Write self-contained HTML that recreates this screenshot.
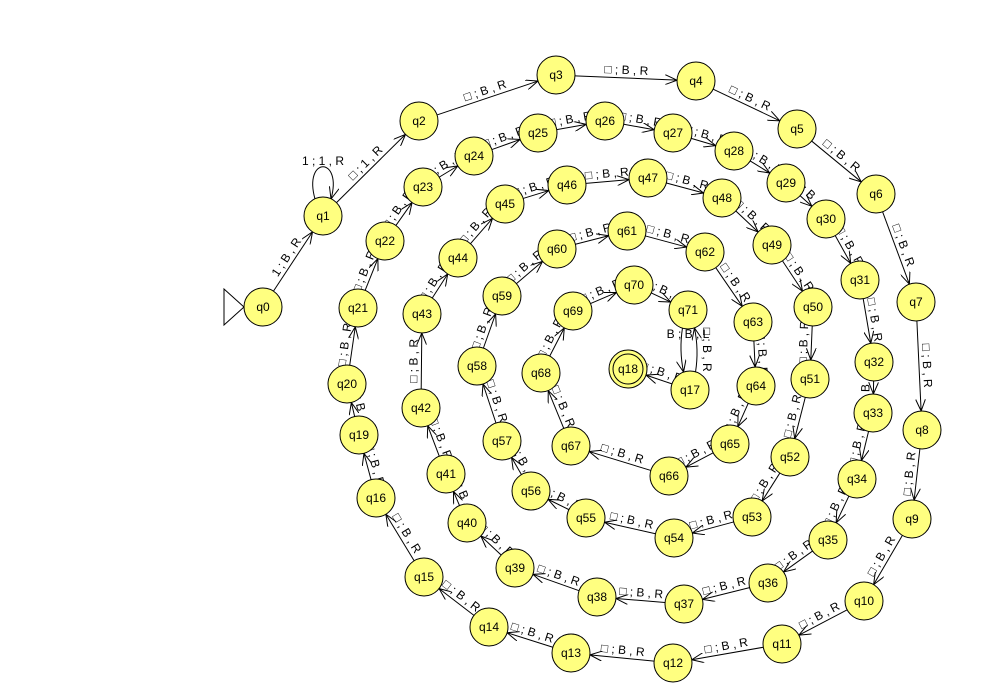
<!DOCTYPE html>
<html><head><meta charset="utf-8"><style>
html,body{margin:0;padding:0;background:#fff}
svg{display:block}
text{font-family:"Liberation Sans",sans-serif;font-size:12px;fill:#000}
</style></head><body>
<svg id="chart" width="1000" height="685" viewBox="0 0 1000 685" xmlns="http://www.w3.org/2000/svg">
<defs><marker id="ah" viewBox="0 0 12 10" refX="12" refY="5" markerWidth="12" markerHeight="10" orient="auto" markerUnits="userSpaceOnUse"><path d="M0,0 L12,5 L0,10" fill="none" stroke="#000" stroke-width="1"/></marker></defs>
<g id="edges"></g><g id="nodes"></g>
</svg>
<script>
const stateNames=["q0","q1","q2","q3","q4","q5","q6","q7","q8","q9","q10","q11","q12","q13","q14","q15","q16","q17","q18","q19","q20","q21","q22","q23","q24","q25","q26","q27","q28","q29","q30","q31","q32","q33","q34","q35","q36","q37","q38","q39","q40","q41","q42","q43","q44","q45","q46","q47","q48","q49","q50","q51","q52","q53","q54","q55","q56","q57","q58","q59","q60","q61","q62","q63","q64","q65","q66","q67","q68","q69","q70","q71"];
const stateX=[263,323,419,556,696,797,876,916,922,912,864,782,673,571,489,424,376,690,628,359,347,358,385,423,474,538,605,673,734,786,826,860,874,873,857,828,768,684,597,515,467,446,421,422,458,505,567,648,722,772,813,810,790,752,674,586,531,502,477,502,557,627,705,753,756,730,669,571,541,573,634,688];
const stateY=[307,216,121,75,81,129,194,302,430,519,601,644,663,653,627,577,498,390,369,435,384,308,241,187,156,133,121,133,151,183,219,280,362,413,479,540,583,604,597,568,523,474,408,314,258,204,185,178,198,245,307,379,457,517,538,518,491,441,366,296,249,231,252,322,386,444,476,446,373,311,285,310];
const finalStates=["q18"];
const chainOrder=["q0","q1","q2","q3","q4","q5","q6","q7","q8","q9","q10","q11","q12","q13","q14","q15","q16","q19","q20","q21","q22","q23","q24","q25","q26","q27","q28","q29","q30","q31","q32","q33","q34","q35","q36","q37","q38","q39","q40","q41","q42","q43","q44","q45","q46","q47","q48","q49","q50","q51","q52","q53","q54","q55","q56","q57","q58","q59","q60","q61","q62","q63","q64","q65","q66","q67","q68","q69","q70","q71"];
const R=19, NS="http://www.w3.org/2000/svg";
const eg=document.getElementById('edges'), ng=document.getElementById('nodes');
function pos(n){const i=stateNames.indexOf(n);return [stateX[i],stateY[i]];}
function label(n){if(n==="q0")return "1 ; B , R";if(n==="q1")return "□ ; 1 , R";return "□ ; B , R";}
function straight(from,to,txt){
  const a=pos(from),b=pos(to);
  const dx=b[0]-a[0],dy=b[1]-a[1],L=Math.hypot(dx,dy),ux=dx/L,uy=dy/L;
  const l=document.createElementNS(NS,'line');
  
  
  l.setAttribute('x1',a[0]+ux*R);l.setAttribute('y1',a[1]+uy*R);
  l.setAttribute('x2',b[0]-ux*R);l.setAttribute('y2',b[1]-uy*R);
  l.setAttribute('stroke','#000');l.setAttribute('marker-end','url(#ah)');
  eg.appendChild(l);
  let ang=Math.atan2(dy,dx)*180/Math.PI; if(ang>90)ang-=180; if(ang<-90)ang+=180;
  const mx=(a[0]+b[0])/2,my=(a[1]+b[1])/2;
  const t=document.createElementNS(NS,'text');
  
  
  t.setAttribute('text-anchor','middle');
  t.setAttribute('transform','translate('+mx+','+my+') rotate('+ang+') translate(0,-4)');
  t.textContent=txt;
  eg.appendChild(t);
}
for(let i=0;i<chainOrder.length-1;i++) straight(chainOrder[i],chainOrder[i+1],label(chainOrder[i]));
straight("q17","q18","□ ; B , R");
// curved pair between q71 and q17
function curved(from,to,bend,txt,horiz){
  const a=pos(from),b=pos(to);
  const dx=b[0]-a[0],dy=b[1]-a[1],L=Math.hypot(dx,dy),ux=dx/L,uy=dy/L,nx=-uy,ny=ux;
  const sx=a[0]+ux*R*0.95+nx*6,sy=a[1]+uy*R*0.95+ny*6,ex=b[0]-ux*R*0.95+nx*6,ey=b[1]-uy*R*0.95+ny*6;
  const cx=(a[0]+b[0])/2+nx*bend,cy=(a[1]+b[1])/2+ny*bend;
  const p=document.createElementNS(NS,'path');
  
  
  p.setAttribute('d','M'+sx+','+sy+' Q'+cx+','+cy+' '+ex+','+ey);
  p.setAttribute('fill','none');p.setAttribute('stroke','#000');p.setAttribute('marker-end','url(#ah)');
  eg.appendChild(p);
  const t=document.createElementNS(NS,'text');
  
  
  t.setAttribute('text-anchor','middle');
  if(horiz){t.setAttribute('x',(a[0]+b[0])/2-1);t.setAttribute('y',a[1]+R+9);}
  else{t.setAttribute('transform','translate('+(cx+4)+','+cy+') rotate(90)');}
  t.textContent=txt;eg.appendChild(t);
}
curved("q71","q17",10,"B ; B , L",true);
curved("q17","q71",10,"□ ; B , R",false);
// self loop on q1
(function(){const p=pos("q1");
 const path=document.createElementNS(NS,'path');
 
 
 path.setAttribute('d','M'+(p[0]-8)+','+(p[1]-17)+' C'+(p[0]-20)+','+(p[1]-60)+' '+(p[0]+20)+','+(p[1]-60)+' '+(p[0]+8)+','+(p[1]-17));
 path.setAttribute('fill','none');path.setAttribute('stroke','#000');path.setAttribute('marker-end','url(#ah)');
 eg.appendChild(path);
 const t=document.createElementNS(NS,'text');
 
 
 t.setAttribute('x',p[0]);t.setAttribute('y',p[1]-51);t.setAttribute('text-anchor','middle');
 t.textContent="1 ; 1 , R";eg.appendChild(t);})();
// start triangle
(function(){const p=pos("q0");
 const tr=document.createElementNS(NS,'path');
 
 
 tr.setAttribute('d','M'+(p[0]-39)+','+(p[1]-18)+' L'+(p[0]-R)+','+p[1]+' L'+(p[0]-39)+','+(p[1]+18)+' Z');
 tr.setAttribute('fill','#fff');tr.setAttribute('stroke','#000');
 eg.appendChild(tr);})();
for(let i=0;i<stateNames.length;i++){
  const g=document.createElementNS(NS,'g');
  
  
  const c=document.createElementNS(NS,'circle');
  c.setAttribute('cx',stateX[i]);c.setAttribute('cy',stateY[i]);c.setAttribute('r',R);
  c.setAttribute('fill','#ffff80');c.setAttribute('stroke','#000');
  g.appendChild(c);
  if(finalStates.includes(stateNames[i])){
    const c2=document.createElementNS(NS,'circle');
    c2.setAttribute('cx',stateX[i]);c2.setAttribute('cy',stateY[i]);c2.setAttribute('r',R-4);
    c2.setAttribute('fill','none');c2.setAttribute('stroke','#000');g.appendChild(c2);
  }
  const t=document.createElementNS(NS,'text');
  t.setAttribute('x',stateX[i]);t.setAttribute('y',stateY[i]+4);t.setAttribute('text-anchor','middle');
  t.textContent=stateNames[i];g.appendChild(t);
  ng.appendChild(g);
}
</script>
</body></html>
